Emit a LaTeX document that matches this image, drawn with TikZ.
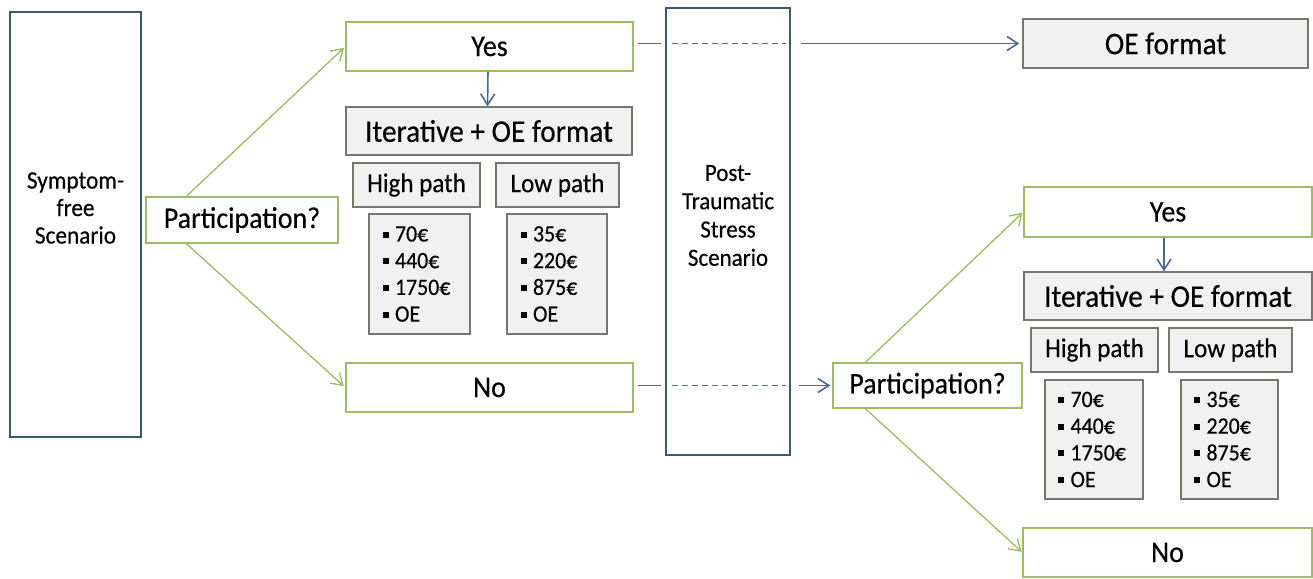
\documentclass[tikz,border=0pt]{standalone}
\usepackage{fontspec}
\setmainfont{Carlito}[FakeStretch=0.93,FakeBold=0.35]
\usetikzlibrary{arrows.meta}
\definecolor{grn}{HTML}{9DBC63}
\definecolor{blu}{HTML}{4A6A92}
\definecolor{slate}{HTML}{3A5A6C}
\definecolor{gfill}{HTML}{F1F1F1}
\definecolor{gline}{HTML}{77776E}
\newcommand{\bsq}{\raisebox{0.17em}{\rule{6pt}{6pt}}\hspace{6.5pt}}
\tikzset{
  gbox/.style={draw=grn, line width=1.3pt, fill=white, inner sep=0pt, font=\fontsize{30}{32}\selectfont},
  graybox/.style={draw=gline, line width=1.2pt, fill=gfill, inner sep=0pt},
  bigtxt/.style={font=\fontsize{31.5}{33}\selectfont},
  pathtxt/.style={font=\fontsize{27}{29}\selectfont},
  tallbox/.style={draw=slate, line width=1.5pt, fill=white, inner sep=0pt},
  listbox/.style={graybox, align=left, font=\fontsize{23.5}{26.7}\selectfont},
  garrow/.style={draw=grn, line width=1.3pt, -{Straight Barb[length=11pt,width=14pt]}},
  barrow/.style={draw=blu, line width=1.6pt, -{Straight Barb[length=11pt,width=14pt]}},
  bline/.style={draw=blu, line width=1.8pt},
  bdash/.style={draw=blu, line width=1.8pt, dash pattern=on 6pt off 4pt},
}
\begin{document}
\begin{tikzpicture}[x=1pt,y=-1pt]
\useasboundingbox (0,0) rectangle (1313,578);
\clip (0,0) rectangle (1313,578);
\fill[white] (0,0) rectangle (1313,578);

% tall scenario boxes
\node[tallbox, minimum width=131pt, minimum height=425pt] (Sym) at (75.5,224.5) {};
\node[align=center, font=\fontsize{25}{27.5}\selectfont] (SymT) at (75.5,208) {Symptom-\\free\\Scenario};
\node[tallbox, minimum width=124pt, minimum height=447pt] (PTS) at (728,231.5) {};
\node[align=center, font=\fontsize{24.7}{28.3}\selectfont] (PTST) at (728,215.5) {Post-\\Traumatic\\Stress\\Scenario};

% first decision
\node[gbox, minimum width=192pt, minimum height=46pt] (P1) at (242,220) {Participation?};
\node[gbox, minimum width=287pt, minimum height=49pt] (Y1) at (489.5,46.5) {Yes};
\node[gbox, minimum width=287pt, minimum height=49pt] (N1) at (489.5,387.5) {No};
\node[graybox, bigtxt, minimum width=286pt, minimum height=48pt] (I1) at (489,131) {Iterative + OE format};
\node[graybox, pathtxt, minimum width=127pt, minimum height=44pt] (H1) at (416.5,185) {High path};
\node[graybox, pathtxt, minimum width=123pt, minimum height=44pt] (L1) at (557.5,185) {Low path};
\node[listbox, minimum width=101pt, minimum height=120pt, text width=74pt, inner xsep=13.5pt] (HL1) at (419.5,274)
  {\bsq 70€\\ \bsq 440€\\ \bsq 1750€\\ \bsq OE};
\node[listbox, minimum width=100pt, minimum height=120pt, text width=73pt, inner xsep=13.5pt] (LL1) at (557,274)
  {\bsq 35€\\ \bsq 220€\\ \bsq 875€\\ \bsq OE};

% OE format
\node[graybox, bigtxt, minimum width=285pt, minimum height=49pt] (OE) at (1165.5,43.5) {OE format};

% second decision
\node[gbox, minimum width=189pt, minimum height=45pt] (P2) at (927.5,385.5) {Participation?};
\node[gbox, minimum width=288pt, minimum height=50pt] (Y2) at (1168,212) {Yes};
\node[gbox, minimum width=289pt, minimum height=49pt] (N2) at (1167.5,552.5) {No};
\node[graybox, bigtxt, minimum width=288pt, minimum height=48pt] (I2) at (1168,296) {Iterative + OE format};
\node[graybox, pathtxt, minimum width=127pt, minimum height=44pt] (H2) at (1094.5,350) {High path};
\node[graybox, pathtxt, minimum width=123pt, minimum height=44pt] (L2) at (1230.5,350) {Low path};
\node[listbox, minimum width=98pt, minimum height=119pt, text width=72pt, inner xsep=13pt] (HL2) at (1094,439.5)
  {\bsq 70€\\ \bsq 440€\\ \bsq 1750€\\ \bsq OE};
\node[listbox, minimum width=97pt, minimum height=119pt, text width=71pt, inner xsep=13pt] (LL2) at (1229.5,439.5)
  {\bsq 35€\\ \bsq 220€\\ \bsq 875€\\ \bsq OE};

% green branching arrows
\draw[garrow, shorten >=2pt] ([xshift=41pt]P1.north west) -- (Y1.west);
\draw[garrow, shorten >=2pt] ([xshift=41pt]P1.south west) -- (N1.west);
\draw[garrow, shorten >=1pt] ([xshift=33pt]P2.north west) -- (Y2.west);
\draw[garrow, shorten >=1pt] ([xshift=33pt]P2.south west) -- (N2.west);

% blue down arrows
\draw[barrow] ([xshift=-1.5pt]Y1.south) -- ([xshift=-1.5pt]I1.north);
\draw[barrow] ([xshift=-4pt]Y2.south) -- ([xshift=-4pt]I2.north);

% Yes -> OE format through PTS
\draw[bline, shorten <=4pt, shorten >=4pt] (Y1.east |- OE.west) -- (PTS.west |- OE.west);
\draw[bdash, shorten <=7pt, shorten >=5pt] (PTS.west |- OE.west) -- (PTS.east |- OE.west);
\draw[barrow, shorten <=10pt, shorten >=3pt] (PTS.east |- OE.west) -- (OE.west);

% No -> Participation? through PTS
\draw[bline, shorten <=4pt, shorten >=4pt] (N1.east |- P2.west) -- (PTS.west |- P2.west);
\draw[bdash, shorten <=7pt, shorten >=5pt] (PTS.west |- P2.west) -- (PTS.east |- P2.west);
\draw[barrow, shorten <=8pt, shorten >=2pt] (PTS.east |- P2.west) -- (P2.west);
\end{tikzpicture}
\end{document}
